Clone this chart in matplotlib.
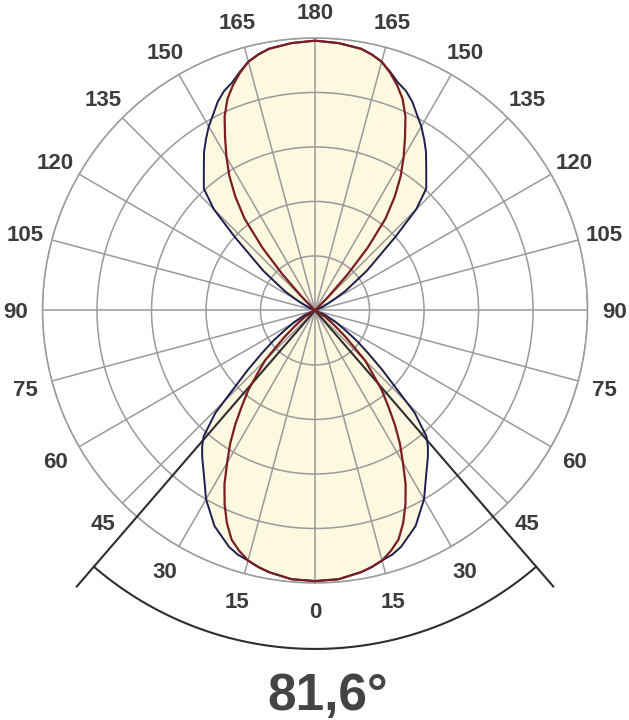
import numpy as np
import matplotlib
matplotlib.use('Agg')
import matplotlib.pyplot as plt

# light distribution, relative intensity (1.0 = outer ring)
# lower lobe, gamma measured from nadir
gamma_low_red = [0, 5, 10, 12.5, 15, 17.5, 20, 22.5, 25, 27.5, 30, 32.5, 35, 37.5, 40, 42.5, 45, 49, 52.5, 58, 65]
red_low = [0.993, 0.99, 0.975, 0.964, 0.95, 0.925, 0.895, 0.845, 0.785, 0.72, 0.645, 0.58, 0.51, 0.44, 0.38, 0.31, 0.26, 0.15, 0.09, 0.044, 0.0]

gamma_low_blue = [0, 5, 10, 12.5, 15, 17.5, 20, 25, 30, 34.4, 37.5, 39.6, 41.5, 44.2, 46.4, 48.5, 51.2, 54, 57, 61, 66, 75]
blue_low = [0.993, 0.99, 0.975, 0.964, 0.95, 0.94, 0.923, 0.873, 0.80, 0.723, 0.68, 0.65, 0.617, 0.525, 0.404, 0.33, 0.25, 0.19, 0.132, 0.085, 0.04, 0.0]

# upper lobe, angle measured from zenith
theta_up_red = [0, 5, 10, 12.5, 15, 17.5, 20, 22.5, 25, 27.5, 30, 32.5, 35, 37.5, 40, 42, 44, 45.5]
red_up = [0.99, 0.985, 0.975, 0.962, 0.945, 0.915, 0.88, 0.84, 0.785, 0.715, 0.65, 0.585, 0.51, 0.425, 0.30, 0.18, 0.07, 0.0]

theta_up_blue = [0, 5, 10, 12.5, 15, 17.5, 20, 22.5, 25, 27.5, 30, 32.5, 35, 37.5, 40, 42.4, 45, 47.5, 50, 52.5, 55, 57.5, 60, 62, 65, 70]
blue_up = [0.99, 0.985, 0.975, 0.962, 0.945, 0.918, 0.89, 0.872, 0.845, 0.81, 0.78, 0.745, 0.71, 0.67, 0.635, 0.605, 0.525, 0.40, 0.30, 0.24, 0.17, 0.13, 0.08, 0.055, 0.025, 0.0]

beam_angle = 81.6
angle_labels = [0, 15, 30, 45, 60, 75, 90, 105, 120, 135, 150, 165, 180]

grid_col = '#9a9a9a'
text_col = '#3c3c3c'


def full_curve(g_low, r_low, t_up, r_up):
    "mirror both lobes and join them into one closed figure eight"
    g_low = np.array(g_low)
    r_low = np.array(r_low)
    t_up = np.array(t_up)
    r_up = np.array(r_up)
    ang = np.concatenate([-g_low[::-1], g_low[1:], 180 - t_up[::-1], 180 + t_up[1:]])
    rad = np.concatenate([r_low[::-1], r_low[1:], r_up[::-1], r_up[1:]])
    return np.deg2rad(ang), rad


th_red, r_red = full_curve(gamma_low_red, red_low, theta_up_red, red_up)
th_blue, r_blue = full_curve(gamma_low_blue, blue_low, theta_up_blue, blue_up)

fig = plt.figure(figsize=(6.29, 7.2), dpi=100)
ax = fig.add_axes([0.0676, 0.1903, 0.8665, 0.757], projection='polar')
ax.set_theta_zero_location('S')
ax.set_theta_direction(1)
ax.set_ylim(0, 1)
ax.set_axisbelow(False)

ax.set_thetagrids(range(0, 360, 15), labels=[])
ax.set_rgrids([0.2, 0.4, 0.6, 0.8, 1.0], labels=[])
ax.grid(True, color=grid_col, linewidth=1.1)
ax.spines['polar'].set_color(grid_col)
ax.spines['polar'].set_linewidth(1.1)
ax.tick_params(length=0)

# filled envelope
ax.fill(th_blue, r_blue, color='#fdf8e0', zorder=1, lw=0)

# beam angle marker
half = np.deg2rad(beam_angle / 2)
for s in (-1, 1):
    ax.plot([0, s * half], [0, 1.338], color='#2e2e2e', lw=1.5, clip_on=False, zorder=2.6)
arc_t = np.linspace(-half, half, 120)
ax.plot(arc_t, np.full_like(arc_t, 1.242), color='#2e2e2e', lw=1.5, clip_on=False, zorder=2.6)

ax.plot(th_blue, r_blue, color='#1c1f4f', lw=1.4, zorder=3)
ax.plot(th_red, r_red, color='#7a1e22', lw=1.6, zorder=3.1)

# angle labels both sides
for a in angle_labels:
    for s in (-1, 1):
        if s == -1 and a in (0, 180):
            continue
        ax.text(np.deg2rad(s * a), 1.10, str(a), ha='center', va='center_baseline',
                fontsize=16, fontweight='bold', family='Liberation Sans', color=text_col)

fig.text(0.5215, 0.0139, '81,6°', ha='center', va='baseline', fontsize=37,
         fontweight='bold', family='Liberation Sans', color='#444444')

fig.savefig('out.png', dpi=100)
